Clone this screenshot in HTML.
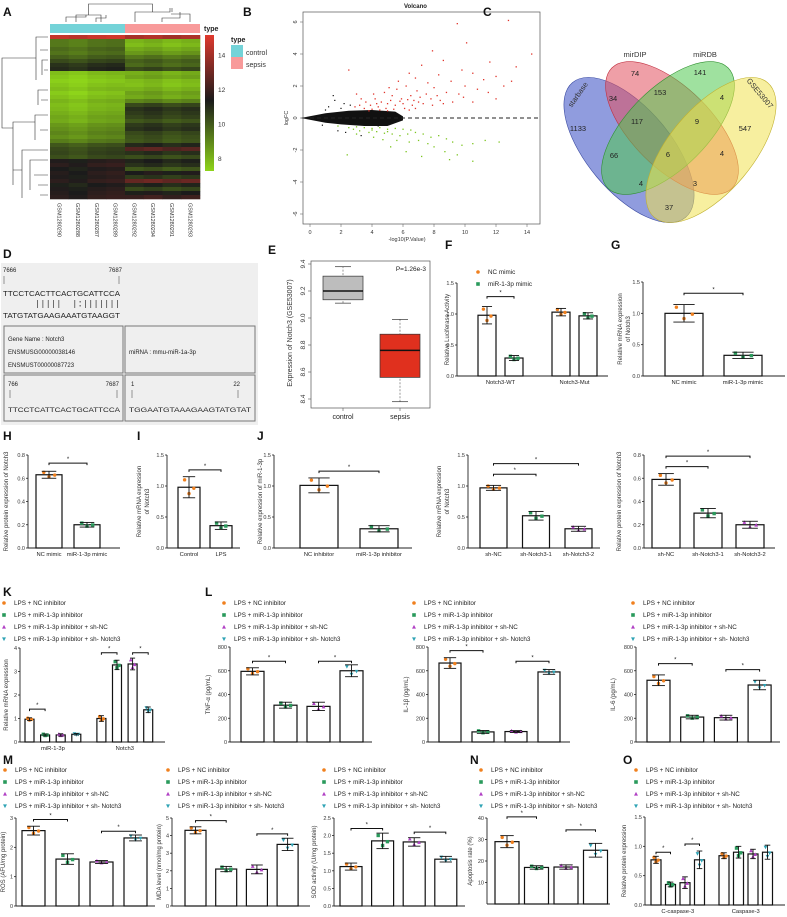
<!DOCTYPE html>
<html><head><meta charset="utf-8">
<style>
html,body{margin:0;padding:0;background:#fff;}
svg{display:block;font-family:"Liberation Sans",Arial,sans-serif;}
</style></head>
<body>
<svg id="fig" width="787" height="917" viewBox="0 0 787 917"></svg>
<script>
// ---------- DATA ----------
const heatCtrl=[14.5,9.5,9.5,9.8,9.6,10,10.5,11,11.2,8,7.8,7.6,7.8,8,7.7,7.9,8.2,8,8.1,8.3,8.5,8.4,8.8,9,9.2,9,9.4,10.2,10.5,10.6,10.4,11.6,11.8,11.5,11.7,11.6,11.8,11.4,11.6,11.7,11.8];
const heatSeps=[14,8.2,8,8.4,8.8,9.5,10,9.8,10.5,8.3,8.5,8,7.9,8.2,8.6,8.4,9.2,10.5,11,10.8,10.6,10.2,10.8,11,10.5,10.3,10.2,11.2,12.5,11,10.4,11.3,11,10.2,11.5,10.8,12.8,11.2,10.5,11.4,12];
const heatColShift=[0,-0.2,0.1,0.2,0,0.2,-0.1,0.1];
const sampleNames=['GSM1280290','GSM1280288','GSM1280287','GSM1280289','GSM1280292','GSM1280294','GSM1280291','GSM1280293'];
const scaleTicks=[14,12,10,8];
const volcRed=[[2.5,3.0],[9.5,5.9],[12.8,6.1],[10.1,4.7],[14.3,4.0],[11.6,3.5],[13.3,3.2],[12,2.6],[7.9,4.2],[8.6,3.6],[7.2,3.3],[9.8,3.0],[10.5,2.8],[11.2,2.4],[8.3,2.7],[6.8,2.5],[7.6,2.2],[9.1,2.3],[10.0,2.0],[6.2,2.0],[5.6,1.8],[6.9,1.7],[8.0,1.9],[8.8,1.6],[9.6,1.5],[10.8,1.8],[12.5,2.0],[4.8,1.6],[5.3,1.4],[5.9,1.2],[6.5,1.4],[7.1,1.3],[7.8,1.2],[8.4,1.1],[9.2,1.0],[4.2,1.2],[4.6,1.0],[5.0,0.9],[5.5,0.8],[6.0,0.9],[6.6,0.8],[7.3,0.9],[7.9,0.8],[3.6,1.0],[3.9,0.8],[4.4,0.7],[4.9,0.6],[5.4,0.55],[6.1,0.6],[6.8,0.6],[3.2,0.8],[3.5,0.6],[4.0,0.55],[4.5,0.5],[5.8,1.05],[6.3,1.15],[7.5,1.5],[8.2,1.4],[2.9,0.7],[3.3,1.2],[3.0,1.5],[4.1,1.5],[5.1,1.9],[5.7,2.3],[6.4,2.8],[7.0,1.0],[8.6,0.9],[9.9,1.3],[11.5,1.6],[13.0,2.3],[12.0,1.2],[10.5,1.0],[4.3,0.9],[5.2,1.1],[6.7,1.1],[3.8,0.45],[5.0,0.45],[6.4,0.5]];
const volcGreen=[[1.8,-0.5],[2.5,-0.6],[3.0,-0.55],[3.5,-0.6],[4.0,-0.65],[4.5,-0.6],[5.0,-0.7],[5.5,-0.65],[6.0,-0.7],[6.5,-0.75],[3.2,-0.8],[3.8,-0.9],[4.3,-0.85],[4.8,-0.95],[5.3,-1.0],[5.8,-1.1],[6.3,-1.0],[6.8,-0.9],[7.3,-1.0],[7.8,-1.2],[8.3,-1.1],[8.8,-1.3],[4.1,-1.2],[4.7,-1.35],[5.6,-1.4],[6.4,-1.5],[7.0,-1.4],[7.6,-1.6],[8.0,-1.8],[9.2,-1.5],[9.8,-1.7],[10.5,-1.6],[11.3,-1.4],[12.2,-1.5],[8.7,-2.1],[9.5,-2.3],[6.2,-2.1],[5.2,-1.8],[10.5,-2.7],[9.0,-2.6],[2.4,-2.3],[3.0,-1.0],[7.2,-2.4],[2.8,-0.7],[4.0,-0.75],[5.0,-0.85]];
const volcBlack=[[1.5,1.4],[1.6,1.1],[2.2,0.9],[2.6,0.8],[1.2,0.7],[2.3,-0.9],[3.3,-1.1],[1.8,-0.8],[4.4,-0.5],[1.0,0.5],[0.8,-0.45],[2.0,0.6]];
const volcXTicks=[0,2,4,6,8,10,12,14];
const volcYTicks=[6,4,2,0,-2,-4,-6];
const boxCats=['control','sepsis'];
const boxStats=[[9.11,9.135,9.2,9.31,9.38],[8.38,8.56,8.76,8.88,8.99]];
const boxTicks=[9.4,9.2,9.0,8.8,8.6,8.4];
// bar panels
const fVals=[0.98,0.29,1.03,0.97], fSds=[0.14,0.04,0.06,0.05];
const gVals=[1.0,0.33], gSds=[0.14,0.05];
const hVals=[0.63,0.2], hSds=[0.03,0.02];
const iVals=[0.98,0.36], iSds=[0.17,0.06];
const j1Vals=[1.01,0.31], j1Sds=[0.12,0.05];
const j2Vals=[0.97,0.52,0.31], j2Sds=[0.04,0.07,0.04];
const j3Vals=[0.59,0.30,0.2], j3Sds=[0.05,0.04,0.03];
const kVals=[0.97,0.3,0.3,0.33,1.0,3.28,3.32,1.37], kSds=[0.06,0.04,0.05,0.03,0.12,0.2,0.25,0.12];
const tnfVals=[595,310,300,600], tnfSds=[30,25,35,50];
const il1Vals=[665,85,88,590], il1Sds=[45,12,8,20];
const il6Vals=[520,210,205,480], il6Sds=[45,15,20,40];
const rosVals=[2.57,1.6,1.5,2.32], rosSds=[0.15,0.18,0.05,0.1];
const mdaVals=[4.3,2.1,2.08,3.5], mdaSds=[0.2,0.15,0.25,0.35];
const sodVals=[1.12,1.85,1.82,1.33], sodSds=[0.1,0.22,0.12,0.08];
const apoVals=[29,17,17.2,25], apoSds=[2.8,0.8,1,3.2];
const casVals=[0.77,0.35,0.38,0.77,0.84,0.9,0.87,0.9], casSds=[0.06,0.04,0.1,0.15,0.05,0.1,0.08,0.12];
const lpsLegend=['LPS + NC inhibitor','LPS + miR-1-3p inhibitor','LPS + miR-1-3p inhibitor + sh-NC','LPS + miR-1-3p inhibitor + sh- Notch3'];
const pairMarks='      |||||  |:|||||||';

// ---------- HELPERS ----------
const NS='http://www.w3.org/2000/svg';
const svg=document.getElementById('fig');
function mk(tag,attrs,name,parent){
  const el=document.createElementNS(NS,tag);
  for(const k in attrs) el.setAttribute(k,attrs[k]);
  
  
  (parent||svg).appendChild(el);
  return el;
}
function tx(x,y,s,o,name){
  o=o||{};
  const a={x:x,y:y,'font-size':o.fs||6,'text-anchor':o.a||'start',fill:o.c||'#222'};
  if(o.w) a['font-weight']=o.w;
  if(o.r) a.transform='rotate('+o.r+' '+x+' '+y+')';
  if(o.tl) {a.textLength=o.tl; a.lengthAdjust='spacingAndGlyphs';}
  const t=mk('text',a,name);
  t.textContent=s;
  return t;
}
function ln(x1,y1,x2,y2,name,c,w,dash){
  const a={x1:x1,y1:y1,x2:x2,y2:y2,stroke:c||'#222','stroke-width':w||0.8};
  if(dash) a['stroke-dasharray']=dash;
  return mk('line',a,name);
}
const COLORS=['#f0801e','#2a9a5c','#b03fc4','#2fa3b5'];
function marker(type,x,y,s,name){
  const c=COLORS[type];
  if(type===0) return mk('circle',{cx:x,cy:y,r:s,fill:c},name);
  if(type===1) return mk('rect',{x:x-s,y:y-s,width:2*s,height:2*s,fill:c},name);
  if(type===2) return mk('polygon',{points:(x)+','+(y-s*1.2)+' '+(x-s*1.1)+','+(y+s*0.9)+' '+(x+s*1.1)+','+(y+s*0.9),fill:c},name);
  return mk('polygon',{points:(x)+','+(y+s*1.2)+' '+(x-s*1.1)+','+(y-s*0.9)+' '+(x+s*1.1)+','+(y-s*0.9),fill:c},name);
}
function legend(x,y,labels,name){
  labels.forEach((l,i)=>{
    marker(i,x,y+i*12-2,1.8,name+'-marker-'+i);
    tx(x+10,y+i*12,l,{fs:6.3},name+'-entry-'+i);
  });
}
function label(x,y,s){ tx(x,y,s,{fs:12,w:'bold',c:'#111'},'panel-label-'+s.toLowerCase()); }

function barChart(c){
  const n=c.name;
  const ys=v=>c.base-(v/c.max)*(c.base-c.top);
  ln(c.ax,c.base,c.ax,ys(c.max),n+'-y-axis','#222',0.9);
  ln(c.ax,c.base,c.xEnd,c.base,n+'-x-axis','#222',0.9);
  c.ticks.forEach(t=>{
    ln(c.ax-2,ys(t),c.ax,ys(t),n+'-y-tick');
    tx(c.ax-3,ys(t)+2,t.toFixed(c.dec),{fs:5.5,a:'end',c:'#333'},n+'-y-tick-label');
  });
  const gs=c.gsize||99, gg=c.ggap||0;
  const bx=i=>c.x0+i*c.pitch+Math.floor(i/gs)*gg;
  c.vals.forEach((v,i)=>{
    const x=bx(i), cx=x+c.bw/2, ser=c.series?c.series[i]:i;
    mk('rect',{x:x,y:ys(v),width:c.bw,height:c.base-ys(v),fill:'#fff',stroke:'#111','stroke-width':1.2},n+'-bar-'+i);
    const sd=c.sds[i];
    marker(ser,cx-c.bw*0.2,ys(v+sd*0.7),1.7,n+'-point');
    marker(ser,cx+c.bw*0.22,ys(v-sd*0.1),1.7,n+'-point');
    marker(ser,cx,ys(v-sd*0.6),1.7,n+'-point');
    ln(cx,ys(v-sd),cx,ys(v+sd),n+'-error-bar','#111',0.9);
    ln(cx-c.bw*0.28,ys(v+sd),cx+c.bw*0.28,ys(v+sd),n+'-error-cap','#111',0.9);
    ln(cx-c.bw*0.28,ys(v-sd),cx+c.bw*0.28,ys(v-sd),n+'-error-cap','#111',0.9);
  });
  (c.sig||[]).forEach(s=>{
    const x1=bx(s[0])+c.bw/2, x2=bx(s[1])+c.bw/2, y=ys(s[2]);
    mk('path',{d:'M'+x1+' '+(y+2)+'V'+y+'H'+x2+'V'+(y+2),fill:'none',stroke:'#111','stroke-width':1},n+'-significance-bracket');
    tx((x1+x2)/2,y-2,'*',{fs:6,a:'middle'},n+'-significance-star');
  });
  if(c.cats){
    const per=c.catPer||1;
    c.cats.forEach((s,k)=>{
      const a=bx(k*per), b=bx(k*per+per-1)+c.bw;
      tx((a+b)/2,c.base+8,s,{fs:5.8,a:'middle'},n+'-x-label');
    });
  }
  const cy=(c.base+ys(c.max))/2;
  c.ylab.forEach((s,k)=>tx(c.ylx+k*8,cy,s,{fs:6,a:'middle',r:-90,c:'#333'},n+'-y-axis-title'));
}

// ---------- A: HEATMAP ----------
label(3,16,'A');
(function(){
  const x0=50,y0=35,cw=18.75,rh=164/heatCtrl.length;
  function col(v){
    const g=[142,212,26],k=[27,27,27],r=[224,58,46];
    let a,b,t;
    if(v<11.5){a=g;b=k;t=Math.max(0,(v-7.5)/4);}else{a=k;b=r;t=Math.min(1,(v-11.5)/3.5);}
    return 'rgb('+a.map((q,i)=>Math.round(q+(b[i]-q)*t)).join(',')+')';
  }
  for(let r=0;r<heatCtrl.length;r++){
    for(let c=0;c<8;c++){
      const v=(c<4?heatCtrl[r]:heatSeps[r])+heatColShift[c];
      mk('rect',{x:x0+c*cw,y:y0+r*rh,width:cw+0.3,height:rh+0.3,fill:col(v)},'heatmap-cell');
    }
  }
  mk('rect',{x:x0,y:24,width:75,height:9,fill:'#74d3d8'},'annotation-control');
  mk('rect',{x:125,y:24,width:75,height:9,fill:'#f89a9a'},'annotation-sepsis');
  sampleNames.forEach((s,c)=>tx(x0+c*cw+cw/2-2,203,s,{fs:5.5,r:90,c:'#333'},'sample-label'));
  mk('path',{d:'M76 22V15H101V22 M66 22V17H86V15 M96 22V18H106V15 M88.5 15V4H152.5V12 M135 22V12H170V8 M162 22V18H180V12 M172 12V8 M190 22V14H171',fill:'none',stroke:'#333','stroke-width':0.6},'column-dendrogram');
  mk('path',{d:'M48 37H36V80 M48 50H40 M48 60H42V75 M48 70H44 M36 58H2V128H13 M48 90H38V105 M48 100H41 M48 115H35V140 M48 130H40 M35 122H13V185 M48 150H22V198 M48 160H30V190 M48 175H34 M48 185H38 M48 195H40 M22 170H13',fill:'none',stroke:'#333','stroke-width':0.6},'row-dendrogram');
  const gr=mk('linearGradient',{id:'hs',x1:0,y1:1,x2:0,y2:0},'colorbar-gradient');
  [['0%','#8ed41a'],['52%','#1b1b1b'],['100%','#e03a2e']].forEach(s=>mk('stop',{offset:s[0],'stop-color':s[1]},'gradient-stop',gr));
  mk('rect',{x:205,y:35,width:9,height:136,fill:'url(#hs)'},'color-scale-bar');
  scaleTicks.forEach(t=>tx(218,171-(t-7.3)/(15.2-7.3)*136+2,String(t),{fs:6.5,c:'#333'},'color-scale-tick'));
  tx(204,31,'type',{fs:7,w:'bold'},'annotation-title');
  tx(231,42,'type',{fs:7,w:'bold'},'legend-title');
  mk('rect',{x:231,y:45,width:12,height:12,fill:'#74d3d8'},'legend-swatch-control');
  tx(246,55,'control',{fs:7,c:'#333'},'legend-entry-control');
  mk('rect',{x:231,y:57,width:12,height:12,fill:'#f89a9a'},'legend-swatch-sepsis');
  tx(246,67,'sepsis',{fs:7,c:'#333'},'legend-entry-sepsis');
})();

// ---------- B: VOLCANO ----------
label(243,16,'B');
(function(){
  const xs=v=>310+v*15.5, ys=v=>118-v*16;
  mk('rect',{x:303,y:12,width:237,height:212,fill:'none',stroke:'#555','stroke-width':0.7},'volcano-frame');
  tx(404,8,'Volcano',{fs:6,w:'bold'},'volcano-title');
  volcXTicks.forEach(t=>{ln(xs(t),224,xs(t),227,'x-tick','#555',0.5);tx(xs(t),234,String(t),{fs:5.5,a:'middle',c:'#333'},'x-tick-label');});
  volcYTicks.forEach(t=>{ln(300,ys(t),303,ys(t),'y-tick','#555',0.5);tx(297,ys(t),String(t),{fs:5.5,a:'middle',r:-90,c:'#333'},'y-tick-label');});
  tx(407,241,'-log10(P.Value)',{fs:5.5,a:'middle',c:'#333'},'x-axis-title');
  tx(288,118,'logFC',{fs:5.5,a:'middle',r:-90,c:'#333'},'y-axis-title');
  mk('path',{d:'M'+xs(-0.6)+' '+ys(0)+'L'+xs(1)+' '+ys(0.3)+'L'+xs(2.5)+' '+ys(0.45)+'L'+xs(4)+' '+ys(0.5)+'L'+xs(5.5)+' '+ys(0.4)+'L'+xs(6)+' '+ys(0.1)+'L'+xs(6)+' '+ys(-0.15)+'L'+xs(5)+' '+ys(-0.5)+'L'+xs(3.5)+' '+ys(-0.5)+'L'+xs(2)+' '+ys(-0.4)+'L'+xs(1)+' '+ys(-0.3)+'Z',fill:'#111'},'nonsignificant-cloud');
  volcBlack.forEach(p=>mk('rect',{x:xs(p[0])-0.6,y:ys(p[1])-0.6,width:1.2,height:1.2,fill:'#111'},'point-ns'));
  volcRed.forEach(p=>mk('rect',{x:xs(p[0])-0.6,y:ys(p[1])-0.6,width:1.3,height:1.3,fill:'#e0332a'},'point-up'));
  volcGreen.forEach(p=>mk('rect',{x:xs(p[0])-0.6,y:ys(p[1])-0.6,width:1.3,height:1.3,fill:'#7cc520'},'point-down'));
  ln(303,ys(0),540,ys(0),'zero-line','#222',1,'4,3');
})();

// ---------- C: VENN ----------
label(483,16,'C');
(function(){
  mk('ellipse',{cx:629,cy:150,rx:88,ry:42,transform:'rotate(50 629 150)',fill:'rgba(70,90,200,0.6)',stroke:'#3a4aa0','stroke-width':0.6},'venn-starbase');
  mk('ellipse',{cx:672,cy:128,rx:85,ry:40,transform:'rotate(45 672 128)',fill:'rgba(225,80,95,0.55)',stroke:'#c03040','stroke-width':0.6},'venn-mirdip');
  mk('ellipse',{cx:668,cy:128,rx:85,ry:40,transform:'rotate(-45 668 128)',fill:'rgba(80,200,80,0.55)',stroke:'#309030','stroke-width':0.6},'venn-mirdb');
  mk('ellipse',{cx:711,cy:150,rx:88,ry:42,transform:'rotate(-50 711 150)',fill:'rgba(240,225,80,0.55)',stroke:'#c0b030','stroke-width':0.6},'venn-gse53007');
  [['74',635,76],['141',700,75],['34',613,101],['153',660,95],['4',722,100],['1133',578,131],['117',637,124],['9',697,124],['547',745,131],['66',614,158],['6',668,157],['4',722,156],['4',641,186],['3',695,186],['37',669,210]]
    .forEach(d=>tx(d[1],d[2],d[0],{fs:7.5,a:'middle',c:'#222'},'venn-count'));
  tx(635,57,'mirDIP',{fs:7.5,a:'middle',c:'#333'},'venn-label-mirdip');
  tx(705,57,'miRDB',{fs:7.5,a:'middle',c:'#333'},'venn-label-mirdb');
  tx(580,96,'starbase',{fs:7.5,a:'middle',r:-55,c:'#333'},'venn-label-starbase');
  tx(758,95,'GSE53007',{fs:7.5,a:'middle',r:50,c:'#333'},'venn-label-gse53007');
})();

// ---------- D: ALIGNMENT ----------
label(3,258,'D');
(function(){
  mk('rect',{x:1,y:263,width:257,height:162,fill:'#efefef'},'alignment-panel');
  const f={fs:6,c:'#222'};
  tx(3,272,'7666',f,'pos-start');tx(122,272,'7687',{fs:6,a:'end'},'pos-end');
  ln(4,276,4,284,'tick','#555',0.6);ln(119,276,119,284,'tick','#555',0.6);
  tx(3,296,'TTCCTCACTTCACTGCATTCCA',{fs:7,tl:117},'target-sequence');
  const cw=117/22;
  for(let i=0;i<pairMarks.length;i++){
    const ch=pairMarks[i], x=3+cw*i+cw/2;
    if(ch==='|') ln(x,300,x,308,'pair-bar','#333',0.7);
    else if(ch===':'){ln(x,301,x,302.5,'pair-wobble','#333',0.9);ln(x,305,x,306.5,'pair-wobble','#333',0.9);}
  }
  tx(3,318,'TATGTATGAAGAAATGTAAGGT',{fs:7,tl:117},'mirna-sequence');
  mk('rect',{x:4,y:326,width:119,height:47,fill:'none',stroke:'#777','stroke-width':1},'gene-box');
  mk('rect',{x:125,y:326,width:130,height:47,fill:'none',stroke:'#777','stroke-width':1},'mirna-box');
  mk('rect',{x:4,y:375,width:119,height:46,fill:'none',stroke:'#777','stroke-width':1},'target-box');
  mk('rect',{x:125,y:375,width:130,height:46,fill:'none',stroke:'#777','stroke-width':1},'seed-box');
  tx(8,341,'Gene Name : Notch3',f,'gene-name');
  tx(8,354,'ENSMUSG00000038146',f,'gene-id');
  tx(8,367,'ENSMUST00000087723',f,'transcript-id');
  tx(129,354,'miRNA : mmu-miR-1a-3p',f,'mirna-name');
  tx(8,386,'766',f,'pos');tx(119,386,'7687',{fs:6,a:'end'},'pos');tx(131,386,'1',f,'pos');tx(240,386,'22',{fs:6,a:'end'},'pos');
  ln(10,390,10,398,'tick','#555',0.6);ln(117,390,117,398,'tick','#555',0.6);ln(132,390,132,398,'tick','#555',0.6);ln(238,390,238,398,'tick','#555',0.6);
  tx(8,412,'TTCCTCATTCACTGCATTCCA',{fs:6.5,tl:112},'target-seq-2');
  tx(129,412,'TGGAATGTAAAGAAGTATGTAT',{fs:6.5,tl:122},'mirna-seq-2');
})();

// ---------- E: BOXPLOT ----------
label(268,254,'E');
(function(){
  const ys=v=>264+(9.4-v)/0.2*27;
  mk('rect',{x:311,y:261,width:119,height:147,fill:'none',stroke:'#555','stroke-width':0.7},'box-frame');
  boxTicks.forEach(t=>{ln(308,ys(t),311,ys(t),'y-tick','#555',0.6);tx(305,ys(t),t.toFixed(1),{fs:6.5,a:'middle',r:-90,c:'#333'},'y-tick-label');});
  tx(292,333,'Expression of Notch3 (GSE53007)',{fs:7,a:'middle',r:-90,c:'#333'},'y-axis-title');
  const cx=[343,400],fills=['#bdbdbd','#e0301e'];
  boxStats.forEach((s,i)=>{
    ln(cx[i],ys(s[0]),cx[i],ys(s[4]),'whisker','#555',0.6,'2,1.5');
    ln(cx[i]-8,ys(s[0]),cx[i]+8,ys(s[0]),'whisker-cap','#333',0.7);
    ln(cx[i]-8,ys(s[4]),cx[i]+8,ys(s[4]),'whisker-cap','#333',0.7);
    mk('rect',{x:cx[i]-20,y:ys(s[3]),width:40,height:ys(s[1])-ys(s[3]),fill:fills[i],stroke:'#333','stroke-width':0.7},'box-'+boxCats[i]);
    ln(cx[i]-20,ys(s[2]),cx[i]+20,ys(s[2]),'median','#111',1.5);
    ln(cx[i],408,cx[i],411,'x-tick','#555',0.6);
    tx(cx[i],419,boxCats[i],{fs:7,a:'middle',c:'#222'},'x-label');
  });
  tx(426,271,'P=1.26e-3',{fs:6.5,a:'end',c:'#222'},'p-value');
})();

// ---------- F, G ----------
label(445,249,'F');
legend(478,274,['NC mimic','miR-1-3p mimic'],'f-legend');
barChart({name:'f',ax:457,base:376,top:283,max:1.5,ticks:[0,0.5,1,1.5],dec:1,xEnd:608,x0:478,pitch:27,bw:18,gsize:2,ggap:20,vals:fVals,sds:fSds,series:[0,1,0,1],sig:[[0,1,1.28]],cats:['Notch3-WT','Notch3-Mut'],catPer:2,ylab:['Relative Luciferase Activity'],ylx:449});
label(611,249,'G');
barChart({name:'g',ax:643,base:376,top:282,max:1.5,ticks:[0,0.5,1,1.5],dec:1,xEnd:785,x0:665,pitch:59,bw:38,vals:gVals,sds:gSds,sig:[[0,1,1.32]],cats:['NC mimic','miR-1-3p mimic'],ylab:['Relative mRNA expression','of Notch3'],ylx:622});

// ---------- H, I, J ----------
label(3,440,'H');
barChart({name:'h',ax:28,base:548,top:455,max:0.8,ticks:[0,0.2,0.4,0.6,0.8],dec:1,xEnd:120,x0:36,pitch:38,bw:26,vals:hVals,sds:hSds,sig:[[0,1,0.73]],cats:['NC mimic','miR-1-3p mimic'],ylab:['Relative protein expression of Notch3'],ylx:8});
label(137,440,'I');
barChart({name:'i',ax:167,base:548,top:455,max:1.5,ticks:[0,0.5,1,1.5],dec:1,xEnd:240,x0:178,pitch:32,bw:22,vals:iVals,sds:iSds,sig:[[0,1,1.26]],cats:['Control','LPS'],ylab:['Relative mRNA expression','of Notch3'],ylx:141});
label(257,440,'J');
barChart({name:'j1',ax:274,base:548,top:455,max:1.5,ticks:[0,0.5,1,1.5],dec:1,xEnd:412,x0:300,pitch:60,bw:38,vals:j1Vals,sds:j1Sds,sig:[[0,1,1.24]],cats:['NC inhibitor','miR-1-3p inhibitor'],ylab:['Relative expression of miR-1-3p'],ylx:262});
barChart({name:'j2',ax:468,base:548,top:455,max:1.5,ticks:[0,0.5,1,1.5],dec:1,xEnd:600,x0:480,pitch:42.5,bw:27,vals:j2Vals,sds:j2Sds,sig:[[0,1,1.19],[0,2,1.36]],cats:['sh-NC','sh-Notch3-1','sh-Notch3-2'],ylab:['Relative mRNA expression','of Notch3'],ylx:441});
barChart({name:'j3',ax:644,base:548,top:455,max:0.8,ticks:[0,0.2,0.4,0.6,0.8],dec:1,xEnd:775,x0:652,pitch:42,bw:28,vals:j3Vals,sds:j3Sds,sig:[[0,1,0.7],[0,2,0.79]],cats:['sh-NC','sh-Notch3-1','sh-Notch3-2'],ylab:['Relative protein expression of Notch3'],ylx:621});

// ---------- K, L ----------
label(3,596,'K');
legend(4,605,lpsLegend,'k-legend');
barChart({name:'k',ax:20,base:742,top:648,max:4,ticks:[0,1,2,3,4],dec:0,xEnd:165,x0:25,pitch:15.6,bw:9,gsize:4,ggap:9.5,vals:kVals,sds:kSds,series:[0,1,2,3,0,1,2,3],sig:[[0,1,1.4],[4,5,3.8],[6,7,3.8]],cats:['miR-1-3p','Notch3'],catPer:4,ylab:['Relative mRNA expression'],ylx:8});
label(205,596,'L');
legend(224,605,lpsLegend,'l1-legend');
barChart({name:'tnf',ax:230,base:742,top:647,max:800,ticks:[0,200,400,600,800],dec:0,xEnd:372,x0:241,pitch:33,bw:23,vals:tnfVals,sds:tnfSds,sig:[[0,1,680],[2,3,680]],ylab:['TNF-α (pg/mL)'],ylx:210});
legend(414,605,lpsLegend,'l2-legend');
barChart({name:'il1b',ax:428,base:742,top:647,max:800,ticks:[0,200,400,600,800],dec:0,xEnd:570,x0:439,pitch:33,bw:22,vals:il1Vals,sds:il1Sds,sig:[[0,1,770],[2,3,680]],ylab:['IL-1β (pg/mL)'],ylx:408});
legend(633,605,lpsLegend,'l3-legend');
barChart({name:'il6',ax:636,base:742,top:647,max:800,ticks:[0,200,400,600,800],dec:0,xEnd:780,x0:647,pitch:33.7,bw:23,vals:il6Vals,sds:il6Sds,sig:[[0,1,660],[2,3,610]],ylab:['IL-6 (pg/mL)'],ylx:615});

// ---------- M, N, O ----------
label(3,764,'M');
legend(5,772,lpsLegend,'m1-legend');
barChart({name:'ros',ax:16,base:906,top:818,max:3,ticks:[0,1,2,3],dec:0,xEnd:155,x0:22,pitch:34,bw:23,vals:rosVals,sds:rosSds,sig:[[0,1,2.95],[2,3,2.55]],ylab:['ROS (AFU/mg protein)'],ylx:5});
legend(168,772,lpsLegend,'m2-legend');
barChart({name:'mda',ax:172,base:906,top:818,max:5,ticks:[0,1,2,3,4,5],dec:0,xEnd:310,x0:185,pitch:30.7,bw:21,vals:mdaVals,sds:mdaSds,sig:[[0,1,4.85],[2,3,4.1]],ylab:['MDA level (nmol/mg protein)'],ylx:161});
legend(324,772,lpsLegend,'m3-legend');
barChart({name:'sod',ax:334,base:906,top:818,max:2.5,ticks:[0,0.5,1,1.5,2,2.5],dec:1,xEnd:465,x0:340,pitch:31.6,bw:22,vals:sodVals,sds:sodSds,sig:[[0,1,2.2],[2,3,2.1]],ylab:['SOD activity (U/mg protein)'],ylx:316});
label(470,764,'N');
legend(481,772,lpsLegend,'n-legend');
barChart({name:'apoptosis',ax:487,base:904,top:818,max:40,ticks:[10,20,30,40],dec:0,xEnd:610,x0:495,pitch:29.5,bw:24,vals:apoVals,sds:apoSds,sig:[[0,1,40.5],[2,3,34.5]],ylab:['Apoptosis rate (%)'],ylx:472});
label(623,764,'O');
legend(636,772,lpsLegend,'o-legend');
barChart({name:'caspase',ax:645,base:905,top:817,max:1.5,ticks:[0,0.5,1,1.5],dec:1,xEnd:785,x0:651,pitch:14.5,bw:10,gsize:4,ggap:10,vals:casVals,sds:casSds,series:[0,1,2,3,0,1,2,3],sig:[[0,1,0.9],[2,3,1.04]],cats:['C-caspase-3','Caspase-3'],catPer:4,ylab:['Relative protein expression'],ylx:626});
</script>
</body></html>
